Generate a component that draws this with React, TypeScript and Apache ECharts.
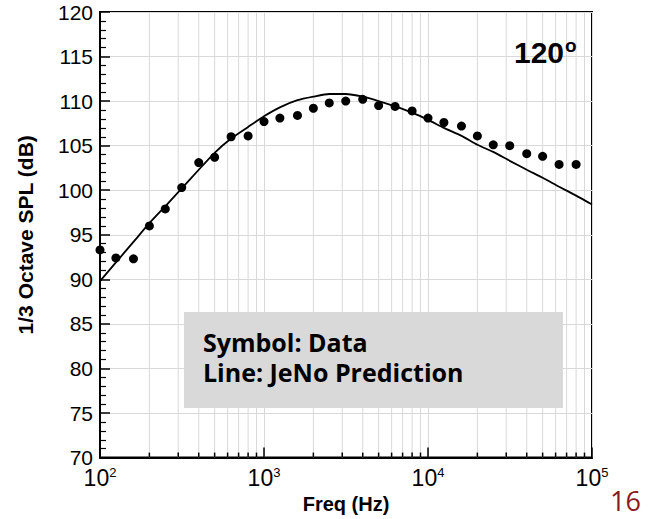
import React, { useEffect, useRef } from "react";
import * as echarts from "echarts";

// 1/3-octave band centre frequencies (Hz)
const freqs = [100, 125, 160, 200, 250, 315, 400, 500, 630, 800, 1000, 1250, 1600, 2000, 2500, 3150, 4000, 5000, 6300, 8000, 10000, 12500, 16000, 20000, 25000, 31500, 40000, 50000, 63000, 80000];
// Measured data (symbols), dB
const measured = [93.3, 92.4, 92.3, 96.0, 97.9, 100.3, 103.1, 103.7, 106.0, 106.1, 107.7, 108.1, 108.4, 109.2, 109.8, 110.0, 110.2, 109.5, 109.4, 108.9, 108.1, 107.6, 107.2, 106.1, 105.1, 105.0, 104.1, 103.8, 102.9, 102.9];
// JeNo prediction (line), dB
const predFreqs = [100, 125, 160, 200, 250, 315, 400, 500, 630, 800, 1000, 1250, 1600, 2000, 2500, 3150, 4000, 5000, 6300, 8000, 10000, 12500, 16000, 20000, 25000, 31500, 40000, 50000, 63000, 80000, 100000];
const predicted = [89.8, 91.9, 94.2, 96.3, 98.2, 100.2, 102.3, 104.2, 105.8, 107.1, 108.3, 109.3, 110.1, 110.5, 110.8, 110.8, 110.5, 110.0, 109.4, 108.7, 107.9, 107.0, 106.1, 105.1, 104.3, 103.3, 102.3, 101.4, 100.4, 99.4, 98.4];
// minor log grid positions
const minorFreqs = [200, 300, 400, 500, 600, 700, 800, 900, 2000, 3000, 4000, 5000, 6000, 7000, 8000, 9000, 20000, 30000, 40000, 50000, 60000, 70000, 80000, 90000];
const yMin = 70;
const yMax = 120;
const yStep = 5;
const angleLabel = "120";
const legendLines = ["Symbol: Data", "Line: JeNo Prediction"];
const pageNumber = "16";

const AXIS_FONT = "'Liberation Sans', Arial, sans-serif";
const BOX_FONT = "'Open Sans', Lato, sans-serif";

export default function App() {
  const ref = useRef<HTMLDivElement>(null);
  useEffect(() => {
    if (!ref.current) return;
    const chart = echarts.init(ref.current, undefined, { renderer: "svg" });
    const option: any = {
      animation: false,
      backgroundColor: "#ffffff",
      grid: {
        left: 100,
        right: 62,
        top: 12,
        bottom: 46,
        show: true,
        borderColor: "#000",
        borderWidth: 2,
        backgroundColor: "transparent",
      },
      xAxis: {
        type: "log",
        logBase: 10,
        min: 100,
        max: 100000,
        name: "Freq (Hz)",
        nameLocation: "middle",
        nameGap: 25,
        nameTextStyle: { fontSize: 20, fontWeight: "bold", fontFamily: AXIS_FONT, color: "#000" },
        axisLine: { show: true, lineStyle: { color: "#000", width: 2 } },
        axisTick: { show: true, inside: true, length: 10, lineStyle: { color: "#000", width: 1.5 } },
        minorTick: { show: false },
        splitLine: { show: true, lineStyle: { color: "#d9d9d9", width: 1 } },
        axisLabel: {
          margin: 8,
          color: "#000",
          fontFamily: AXIS_FONT,
          formatter: (v: number) => `{b|10}{s|${Math.round(Math.log10(v))}}`,
          rich: {
            b: { fontSize: 23, fontFamily: AXIS_FONT, color: "#000", lineHeight: 24 },
            s: { fontSize: 13, fontFamily: AXIS_FONT, color: "#000", padding: [0, 0, 11, 0] },
          },
        },
      },
      yAxis: {
        type: "value",
        min: yMin,
        max: yMax,
        interval: yStep,
        name: "1/3 Octave SPL (dB)",
        nameLocation: "middle",
        nameGap: 64,
        nameRotate: 90,
        nameTextStyle: { fontSize: 21, fontWeight: "bold", fontFamily: AXIS_FONT, color: "#000" },
        axisLine: { show: true, lineStyle: { color: "#000", width: 2 } },
        axisTick: { show: true, inside: true, length: 10, lineStyle: { color: "#000", width: 1.5 } },
        minorTick: { show: true, splitNumber: 5, length: 6, lineStyle: { color: "#000", width: 1.2 } },
        splitLine: { show: true, lineStyle: { color: "#d9d9d9", width: 1 } },
        axisLabel: { margin: 7, fontSize: 21, fontFamily: AXIS_FONT, color: "#000" },
      },
      series: [
        {
          type: "custom",
          z: 1,
          silent: true,
          data: minorFreqs.map((f) => [f, yMin]),
          renderItem: (params: any, api: any) => {
            const f = api.value(0);
            const p0 = api.coord([f, yMin]);
            const p1 = api.coord([f, yMax]);
            return {
              type: "group",
              children: [
                { type: "line", shape: { x1: p0[0], y1: p0[1], x2: p1[0], y2: p1[1] }, style: { stroke: "#d9d9d9", lineWidth: 1 } },
                { type: "line", shape: { x1: p0[0], y1: p0[1], x2: p0[0], y2: p0[1] - 5 }, style: { stroke: "#000", lineWidth: 1.5 } },
              ],
            };
          },
        },
        {
          type: "line",
          name: "JeNo Prediction",
          data: predFreqs.map((f, i) => [f, predicted[i]]),
          showSymbol: false,
          symbol: "none",
          smooth: 0.2,
          lineStyle: { color: "#000", width: 1.8 },
          z: 3,
        },
        {
          type: "scatter",
          name: "Data",
          data: freqs.map((f, i) => [f, measured[i]]),
          symbol: "circle",
          symbolSize: 9,
          itemStyle: { color: "#000", opacity: 1 },
          z: 4,
        },
      ],
      graphic: [
        {
          type: "text",
          left: 514,
          top: 36,
          z: 50,
          style: {
            text: `{a|${angleLabel}}{d|o}`,
            rich: {
              a: { fontSize: 30, fontWeight: "bold", fontFamily: AXIS_FONT, fill: "#000" },
              d: { fontSize: 19, fontWeight: "bold", fontFamily: AXIS_FONT, fill: "#000", padding: [0, 0, 14, 1] },
            },
          },
        },
        {
          type: "rect",
          z: 100,
          shape: { x: 184, y: 312, width: 379, height: 96 },
          style: { fill: "#d9d9d9" },
        },
        {
          type: "text",
          z: 101,
          x: 203,
          y: 327,
          style: {
            text: legendLines.join("\n"),
            fontSize: 25,
            lineHeight: 30,
            fontWeight: "bold",
            fontFamily: BOX_FONT,
            fill: "#000",
            verticalAlign: "top",
          },
        },
        {
          type: "text",
          z: 101,
          x: 610,
          y: 500,
          style: { text: pageNumber, fontSize: 27, lineHeight: 28, fontFamily: BOX_FONT, fill: "#8b1a1f", verticalAlign: "middle" },
        },
      ],
    };
    chart.setOption(option);
    return () => chart.dispose();
  }, []);
  return <div ref={ref} style={{ position: "absolute", left: 0, top: 0, width: 654, height: 519, background: "#fff" }} />;
}
